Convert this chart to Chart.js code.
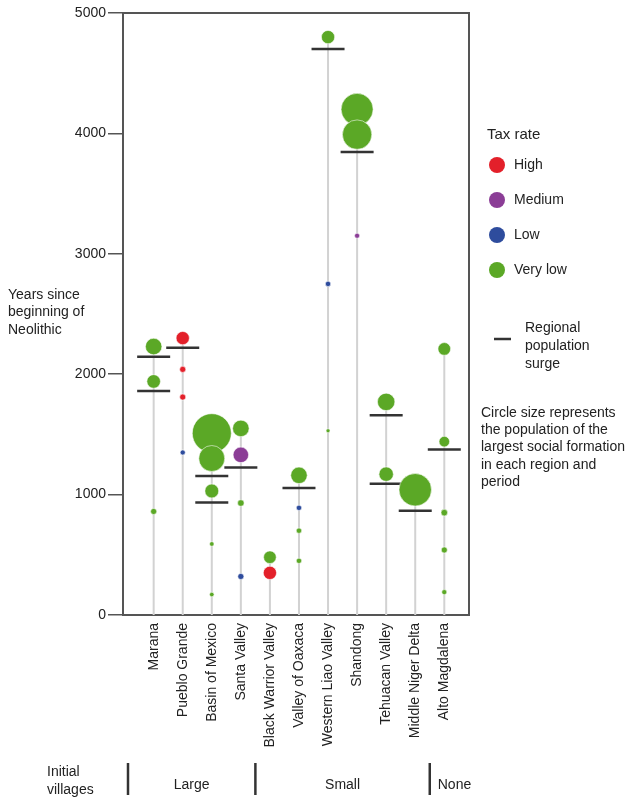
<!DOCTYPE html>
<html>
<head>
<meta charset="utf-8">
<script src="https://cdn.jsdelivr.net/npm/chart.js@4/dist/chart.umd.min.js"></script>
<style>
  html, body { margin: 0; padding: 0; background: #fff; }
  #wrap { width: 631px; height: 799px; position: relative; }
</style>
</head>
<body>
<div id="wrap"><canvas id="c" width="631" height="799"></canvas></div>
<script>
// Regions along the x axis
const regions = ['Marana', 'Pueblo Grande', 'Basin of Mexico', 'Santa Valley', 'Black Warrior Valley',
  'Valley of Oaxaca', 'Western Liao Valley', 'Shandong', 'Tehuacan Valley', 'Middle Niger Delta', 'Alto Magdalena'];

// Largest social formation per region and period
const formRegion = [0, 0, 0, 1, 1, 1, 1, 2, 2, 2, 2, 2, 3, 3, 3, 3, 4, 4, 5, 5, 5, 5, 6, 6, 6, 7, 7, 7, 8, 8, 9, 10, 10, 10, 10, 10];
const formYears = [2230, 1940, 860, 2300, 2040, 1810, 1350, 1510, 1300, 1030, 590, 170, 1550, 1330, 930, 320,
  480, 350, 1160, 890, 700, 450, 4800, 2750, 1530, 4200, 3990, 3150, 1770, 1170, 1040, 2210, 1440, 850, 540, 190];
const formTax = ['Very low', 'Very low', 'Very low', 'High', 'High', 'High', 'Low',
  'Very low', 'Very low', 'Very low', 'Very low', 'Very low',
  'Very low', 'Medium', 'Very low', 'Low',
  'Very low', 'High',
  'Very low', 'Low', 'Very low', 'Very low',
  'Very low', 'Low', 'Very low',
  'Very low', 'Very low', 'Medium',
  'Very low', 'Very low',
  'Very low',
  'Very low', 'Very low', 'Very low', 'Very low', 'Very low'];
// Relative population of the largest formation
const formPop = [17, 11.5, 2.3, 11, 2.3, 2.3, 1.6, 95, 42, 12, 1.3, 1.3, 17, 15, 2.7, 2.3,
  10, 11, 17, 1.8, 1.8, 1.8, 11, 1.8, 1, 64, 54, 1.6, 19, 13, 66, 10, 7, 2.7, 2.3, 1.6];

// Regional population surges
const surgeRegion = [0, 0, 1, 2, 2, 3, 5, 6, 7, 8, 8, 9, 10];
const surgeYears = [2145, 1860, 2220, 1155, 935, 1225, 1055, 4700, 3845, 1660, 1090, 865, 1375];

// Tax rate legend
const taxLevels = ['High', 'Medium', 'Low', 'Very low'];
const taxColors = { 'High': '#e3202a', 'Medium': '#8b3d96', 'Low': '#2e4c9d', 'Very low': '#5ba826' };

// Initial village groups (first region index of each group)
const groupNames = ['Large', 'Small', 'None'];
const groupFirst = [0, 4, 10];

const yTicks = [0, 1000, 2000, 3000, 4000, 5000];

const FONT = '"Liberation Sans", Arial, Helvetica, sans-serif';
const INK = '#222';

// Stems: from 0 up to the highest formation of each region
const stemData = [];
regions.forEach((_, i) => {
  const top = Math.max(...formYears.filter((_, k) => formRegion[k] === i));
  stemData.push({ x: i, y: 0 }, { x: i, y: top }, { x: i, y: null });
});

const bubbleData = formYears.map((y, k) => ({ x: formRegion[k], y: y, r: 2 * Math.sqrt(formPop[k]) }));
const bubbleColors = formTax.map(t => taxColors[t]);
const surgeData = surgeYears.map((y, k) => ({ x: surgeRegion[k], y: y }));

const decor = {
  id: 'decor',
  afterDraw(chart) {
    const ctx = chart.ctx;
    const a = chart.chartArea;
    const xs = chart.scales.x;
    ctx.save();
    // top and right frame
    ctx.strokeStyle = '#555';
    ctx.lineWidth = 2;
    ctx.beginPath();
    ctx.moveTo(a.left, a.top);
    ctx.lineTo(a.right, a.top);
    ctx.lineTo(a.right, a.bottom);
    ctx.stroke();

    ctx.fillStyle = INK;
    ctx.textBaseline = 'middle';
    ctx.textAlign = 'left';
    // y axis title
    ctx.font = '14px ' + FONT;
    ['Years since', 'beginning of', 'Neolithic'].forEach((t, i) => ctx.fillText(t, 8, 295 + i * 17.5));

    // tax rate legend
    ctx.font = '15px ' + FONT;
    ctx.fillText('Tax rate', 487, 135);
    ctx.font = '14px ' + FONT;
    taxLevels.forEach((t, i) => {
      const y = 165 + i * 35;
      ctx.fillStyle = taxColors[t];
      ctx.beginPath();
      ctx.arc(497, y, 8, 0, Math.PI * 2);
      ctx.fill();
      ctx.fillStyle = INK;
      ctx.fillText(t, 514, y);
    });

    // surge legend
    ctx.strokeStyle = '#333';
    ctx.lineWidth = 2.5;
    ctx.beginPath();
    ctx.moveTo(494, 339);
    ctx.lineTo(511, 339);
    ctx.stroke();
    ['Regional', 'population', 'surge'].forEach((t, i) => ctx.fillText(t, 525, 328 + i * 18));

    // circle size note
    ['Circle size represents', 'the population of the', 'largest social formation',
     'in each region and', 'period'].forEach((t, i) => ctx.fillText(t, 481, 413 + i * 17.3));

    // initial villages groups
    ctx.fillText('Initial', 47, 772);
    ctx.fillText('villages', 47, 790);
    const divX = [128];
    for (let g = 1; g < groupFirst.length; g++) divX.push(xs.getPixelForValue(groupFirst[g] - 0.5));
    ctx.strokeStyle = '#333';
    ctx.lineWidth = 2.5;
    divX.forEach(x => {
      ctx.beginPath();
      ctx.moveTo(x, 763);
      ctx.lineTo(x, 795);
      ctx.stroke();
    });
    groupNames.forEach((name, g) => {
      if (g < groupNames.length - 1) {
        ctx.textAlign = 'center';
        ctx.fillText(name, (divX[g] + divX[g + 1]) / 2, 785);
      } else {
        ctx.textAlign = 'left';
        ctx.fillText(name, divX[g] + 8, 785);
      }
    });
    ctx.restore();
  }
};

new Chart(document.getElementById('c'), {
  type: 'bubble',
  data: {
    datasets: [
      {
        type: 'bubble',
        data: bubbleData,
        backgroundColor: bubbleColors,
        borderColor: 'rgba(255,255,255,0.55)',
        borderWidth: 1,
        order: 1,
        clip: false
      },
      {
        type: 'scatter',
        data: surgeData,
        pointStyle: 'line',
        pointRadius: 16.5,
        borderColor: '#333',
        borderWidth: 2.5,
        showLine: false,
        order: 2,
        clip: false
      },
      {
        type: 'line',
        data: stemData,
        borderColor: '#d2d2d2',
        borderWidth: 2,
        pointRadius: 0,
        spanGaps: false,
        order: 3
      }
    ]
  },
  options: {
    responsive: false,
    animation: false,
    events: [],
    layout: { autoPadding: false, padding: { left: 0, top: 13, right: 162, bottom: 0 } },
    plugins: { legend: { display: false }, tooltip: { enabled: false } },
    scales: {
      x: {
        type: 'linear',
        min: -1.055,
        max: 10.85,
        afterBuildTicks: s => { s.ticks = regions.map((_, i) => ({ value: i })); },
        afterFit: s => { s.height = 184; s.paddingLeft = 0; s.paddingRight = 0; },
        ticks: {
          autoSkip: false,
          minRotation: 90,
          maxRotation: 90,
          padding: 0,
          color: INK,
          font: { family: FONT, size: 14 },
          callback: v => regions[v]
        },
        grid: { display: false },
        border: { display: true, color: '#555', width: 2 }
      },
      y: {
        type: 'linear',
        min: 0,
        max: 5000,
        afterBuildTicks: s => { s.ticks = yTicks.map(v => ({ value: v })); },
        afterFit: s => { s.width = 123; s.paddingTop = 0; s.paddingBottom = 0; },
        ticks: {
          padding: 2,
          color: INK,
          font: { family: FONT, size: 14 },
          callback: v => String(v)
        },
        grid: { drawOnChartArea: false, drawTicks: true, tickLength: 15, color: '#555', lineWidth: 1.5 },
        border: { display: true, color: '#555', width: 2 }
      }
    }
  },
  plugins: [decor]
});
</script>
</body>
</html>
